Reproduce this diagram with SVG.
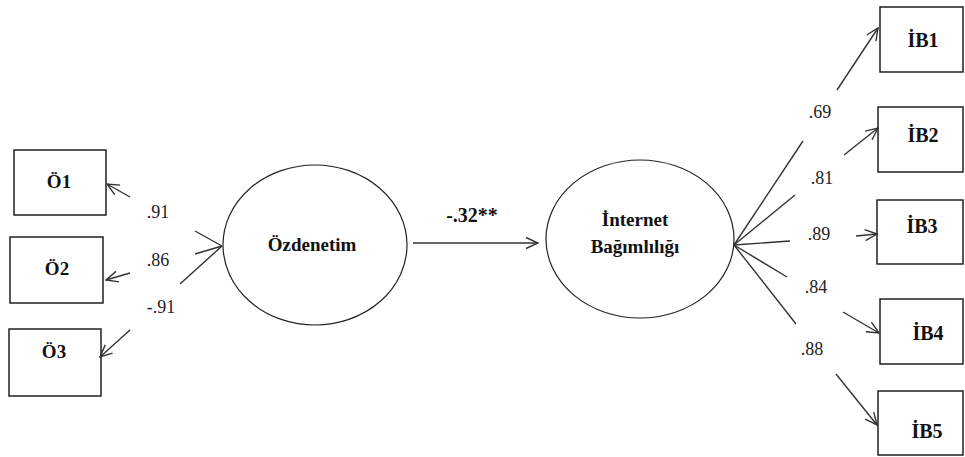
<svg xmlns="http://www.w3.org/2000/svg" width="965" height="457" viewBox="0 0 965 457">
<style>
.box{fill:#fff;stroke:#111;stroke-width:1.4}
.ell{fill:#fff;stroke:#222;stroke-width:1.2}
.lbl{font-family:"Liberation Serif",serif;font-weight:bold;font-size:19px;fill:#111;text-anchor:middle}
.big{font-size:20px}
.num{font-family:"Liberation Serif",serif;font-size:18px;fill:#222;text-anchor:middle}
.con line{stroke:#333;stroke-width:1.4;fill:none}
.arr{marker-end:url(#ah)}
</style>
<defs>
<marker id="ah" viewBox="0 0 14 14" refX="13" refY="7" markerWidth="14" markerHeight="14" orient="auto" markerUnits="userSpaceOnUse">
<path d="M1,1.5 L13,7 L1,12.5" fill="none" stroke="#333" stroke-width="1.4"/>
</marker>
</defs>
<rect width="965" height="457" fill="#fff"/>

<g id="O1"><rect class="box" x="14" y="150" width="92" height="65"/><text class="lbl" x="59" y="188">Ö1</text></g>
<g id="O2"><rect class="box" x="10" y="237" width="93" height="66"/><text class="lbl" x="57" y="275">Ö2</text></g>
<g id="O3"><rect class="box" x="9" y="329" width="92" height="67"/><text class="lbl" x="54" y="358">Ö3</text></g>

<g id="Ozdenetim"><ellipse class="ell" cx="315" cy="245" rx="92" ry="80"/><text class="lbl" x="312" y="251">Özdenetim</text></g>
<g id="Internet"><ellipse class="ell" cx="640" cy="239" rx="94" ry="79"/><text class="lbl" x="635" y="226">İnternet</text><text class="lbl" x="635" y="253">Bağımlılığı</text></g>

<g id="IB1"><rect class="box" x="880" y="7" width="83" height="65"/><text class="lbl big" x="923" y="47">İB1</text></g>
<g id="IB2"><rect class="box" x="878" y="107" width="85" height="65"/><text class="lbl big" x="923" y="142">İB2</text></g>
<g id="IB3"><rect class="box" x="877" y="200" width="86" height="64"/><text class="lbl big" x="922" y="233">İB3</text></g>
<g id="IB4"><rect class="box" x="880" y="299" width="83" height="65"/><text class="lbl big" x="928" y="340">İB4</text></g>
<g id="IB5"><rect class="box" x="878" y="391" width="85" height="64"/><text class="lbl big" x="927" y="438">İB5</text></g>

<g id="connectors" class="con">
<line x1="222" y1="246" x2="195" y2="231"/>
<line class="arr" x1="130" y1="197" x2="107" y2="184"/>
<line x1="222" y1="246" x2="195" y2="254"/>
<line class="arr" x1="130" y1="273" x2="106" y2="280"/>
<line x1="222" y1="246" x2="180" y2="284"/>
<line class="arr" x1="130" y1="330" x2="100" y2="357"/>

<line class="arr" x1="413" y1="243" x2="538" y2="243"/>

<line x1="734" y1="245" x2="803" y2="141"/>
<line class="arr" x1="837" y1="90" x2="878" y2="28"/>
<line x1="734" y1="245" x2="795" y2="195"/>
<line class="arr" x1="844" y1="155" x2="878" y2="128"/>
<line x1="734" y1="245" x2="790" y2="241"/>
<line class="arr" x1="856" y1="236" x2="877" y2="234"/>
<line x1="734" y1="245" x2="787" y2="277"/>
<line class="arr" x1="843" y1="312" x2="879" y2="333"/>
<line x1="734" y1="245" x2="796" y2="324"/>
<line class="arr" x1="836" y1="374" x2="877" y2="425"/>
</g>

<g id="labels">
<text class="num" x="158" y="218">.91</text>
<text class="num" x="158" y="266">.86</text>
<text class="num" x="161" y="313">-.91</text>
<text class="lbl big" x="472" y="222">-.32**</text>
<text class="num" x="820" y="118">.69</text>
<text class="num" x="822" y="184">.81</text>
<text class="num" x="819" y="240">.89</text>
<text class="num" x="816" y="293">.84</text>
<text class="num" x="812" y="355">.88</text>
</g>
</svg>
